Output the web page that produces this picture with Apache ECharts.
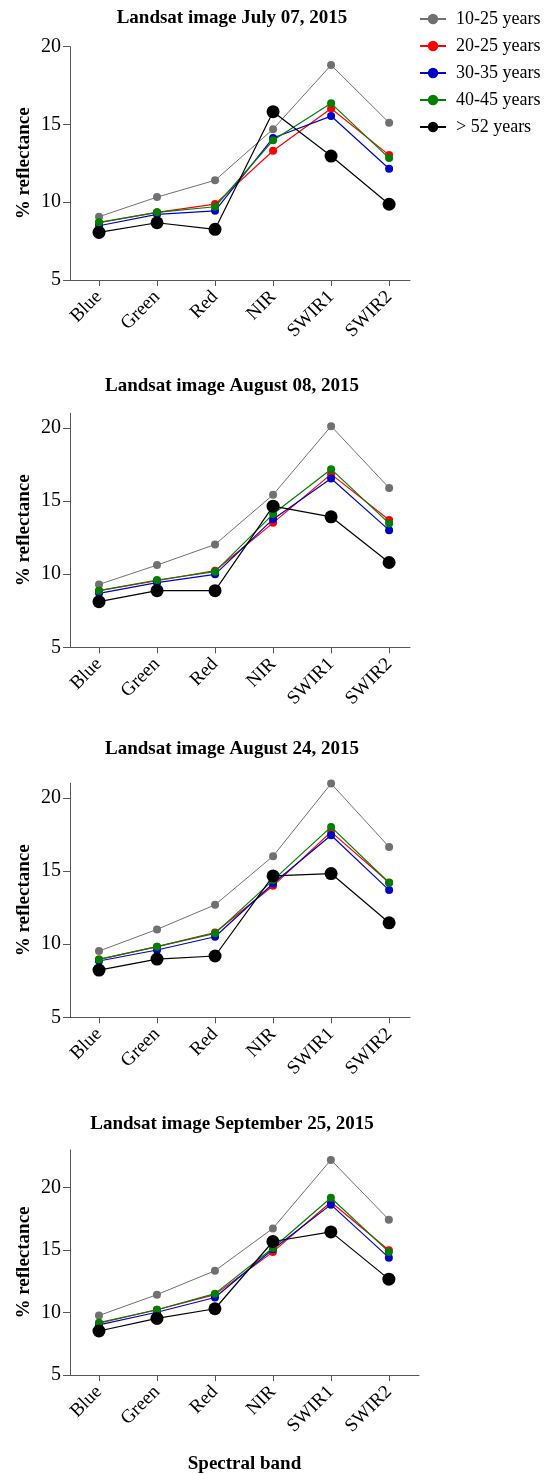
<!DOCTYPE html>
<html>
<head>
<meta charset="utf-8">
<script src="https://cdn.jsdelivr.net/npm/echarts@6/dist/echarts.min.js"></script>
<style>
html,body{margin:0;padding:0;background:#fff;}
#c{width:556px;height:1475px;}
</style>
</head>
<body>
<div id="c"></div>
<script>
// ---- data ----
var categories = ['Blue', 'Green', 'Red', 'NIR', 'SWIR1', 'SWIR2'];
var groups = ['10-25 years', '20-25 years', '30-35 years', '40-45 years', '> 52 years'];
var panelTitles = ['Landsat image July 07, 2015', 'Landsat image August 08, 2015',
                   'Landsat image August 24, 2015', 'Landsat image September 25, 2015'];
var yTicks = [5, 10, 15, 20];

// July 07, 2015
var jul07_10_25 = [9.07, 10.33, 11.41, 14.70, 18.82, 15.11];
var jul07_20_25 = [8.68, 9.35, 9.88, 13.31, 16.03, 13.03];
var jul07_30_35 = [8.49, 9.22, 9.45, 14.13, 15.54, 12.15];
var jul07_40_45 = [8.71, 9.35, 9.71, 13.98, 16.36, 12.84];
var jul07_gt52  = [8.06, 8.68, 8.26, 15.82, 12.97, 9.87];
// August 08, 2015
var aug08_10_25 = [9.30, 10.62, 12.03, 15.43, 20.12, 15.90];
var aug08_20_25 = [8.87, 9.55, 10.24, 13.51, 16.84, 13.70];
var aug08_30_35 = [8.69, 9.42, 9.99, 13.76, 16.54, 13.01];
var aug08_40_45 = [8.87, 9.60, 10.17, 14.11, 17.18, 13.47];
var aug08_gt52  = [8.12, 8.87, 8.87, 14.65, 13.92, 10.80];
// August 24, 2015
var aug24_10_25 = [9.53, 11.01, 12.69, 16.02, 20.98, 16.65];
var aug24_20_25 = [8.96, 9.83, 10.80, 13.99, 17.68, 14.22];
var aug24_30_35 = [8.85, 9.60, 10.51, 14.15, 17.45, 13.70];
var aug24_40_45 = [8.96, 9.83, 10.74, 14.38, 18.02, 14.20];
var aug24_gt52  = [8.23, 8.98, 9.19, 14.67, 14.83, 11.46];
// September 25, 2015
var sep25_10_25 = [9.76, 11.43, 13.34, 16.73, 22.21, 17.43];
var sep25_20_25 = [9.14, 10.22, 11.43, 14.85, 18.84, 14.98];
var sep25_30_35 = [9.01, 10.02, 11.20, 15.06, 18.63, 14.39];
var sep25_40_45 = [9.19, 10.22, 11.51, 15.16, 19.18, 14.85];
var sep25_gt52  = [8.52, 9.53, 10.30, 15.68, 16.45, 12.67];

var panels = [
  [jul07_10_25, jul07_20_25, jul07_30_35, jul07_40_45, jul07_gt52],
  [aug08_10_25, aug08_20_25, aug08_30_35, aug08_40_45, aug08_gt52],
  [aug24_10_25, aug24_20_25, aug24_30_35, aug24_40_45, aug24_gt52],
  [sep25_10_25, sep25_20_25, sep25_30_35, sep25_40_45, sep25_gt52]
];

// ---- styling ----
var FONT = 'Liberation Serif, Times New Roman, serif';
var colors = ['#707070', '#ff0000', '#0000cc', '#008000', '#000000'];
var symSizes = [8, 8, 8, 8, 13];
var lineWidths = [1, 1.2, 1.2, 1.2, 1.2];
var layout = [
  {top: 46.7, height: 233.3, width: 340, yMax: 20, xMax: 5.36, titleTop: 4},
  {top: 413.3, height: 234, width: 340, yMax: 21, xMax: 5.36, titleTop: 372},
  {top: 783.3, height: 234, width: 340, yMax: 21, xMax: 5.36, titleTop: 735},
  {top: 1150, height: 234.3, width: 349, yMax: 23, xMax: 5.52, titleTop: 1110}
];
var axisColor = '#555';
var catIdx = categories.map(function (c, i) { return i; });

var grids = [], xAxes = [], yAxes = [], titles = [], series = [];
layout.forEach(function (L, p) {
  grids.push({left: 70, top: L.top, width: L.width, height: L.height});
  titles.push({
    text: panelTitles[p], left: 227, top: L.titleTop, textAlign: 'center',
    textStyle: {fontFamily: FONT, fontWeight: 'bold', fontSize: 19, color: '#000'}
  });
  xAxes.push({
    type: 'value', gridIndex: p, min: -0.5, max: L.xMax,
    splitLine: {show: false},
    axisLine: {show: true, onZero: false, lineStyle: {color: axisColor, width: 1}},
    axisTick: {show: true, length: 6, customValues: catIdx, lineStyle: {color: axisColor}},
    axisLabel: {
      customValues: catIdx, rotate: 45, margin: 14,
      fontFamily: FONT, fontSize: 19, color: '#000',
      formatter: function (v) { return categories[Math.round(v)]; }
    },
    name: p === 3 ? 'Spectral band' : '',
    nameLocation: 'middle', nameGap: 80, nameMoveOverlap: false,
    nameTextStyle: {fontFamily: FONT, fontWeight: 'bold', fontSize: 19, color: '#000'}
  });
  yAxes.push({
    type: 'value', gridIndex: p, min: 5, max: L.yMax, interval: 5,
    splitLine: {show: false},
    axisLine: {show: true, onZero: false, lineStyle: {color: axisColor, width: 1}},
    axisTick: {show: true, length: 7, customValues: yTicks, lineStyle: {color: axisColor}},
    axisLabel: {customValues: yTicks, margin: 9, fontFamily: FONT, fontSize: 20, color: '#000'},
    name: '% reflectance', nameLocation: 'middle', nameGap: 36, nameRotate: 90,
    nameMoveOverlap: false,
    nameTextStyle: {fontFamily: FONT, fontWeight: 'bold', fontSize: 19, color: '#000'}
  });
  panels[p].forEach(function (vals, s) {
    series.push({
      type: 'line', name: groups[s], xAxisIndex: p, yAxisIndex: p,
      data: vals.map(function (v, i) { return [i, v]; }),
      symbol: 'circle', symbolSize: symSizes[s], showSymbol: true,
      itemStyle: {color: colors[s]},
      lineStyle: {color: colors[s], width: lineWidths[s]},
      z: 2 + s, animation: false
    });
  });
});

var chart = echarts.init(document.getElementById('c'), null, {renderer: 'canvas'});
chart.setOption({
  backgroundColor: '#fff',
  animation: false,
  title: titles,
  grid: grids,
  xAxis: xAxes,
  yAxis: yAxes,
  legend: {
    orient: 'vertical', left: 414, top: 5,
    data: groups, itemWidth: 26, itemHeight: 13, itemGap: 9,
    textStyle: {fontFamily: FONT, fontSize: 18, color: '#000', padding: [0, 0, 0, 5]}
  },
  series: series
});
</script>
</body>
</html>
